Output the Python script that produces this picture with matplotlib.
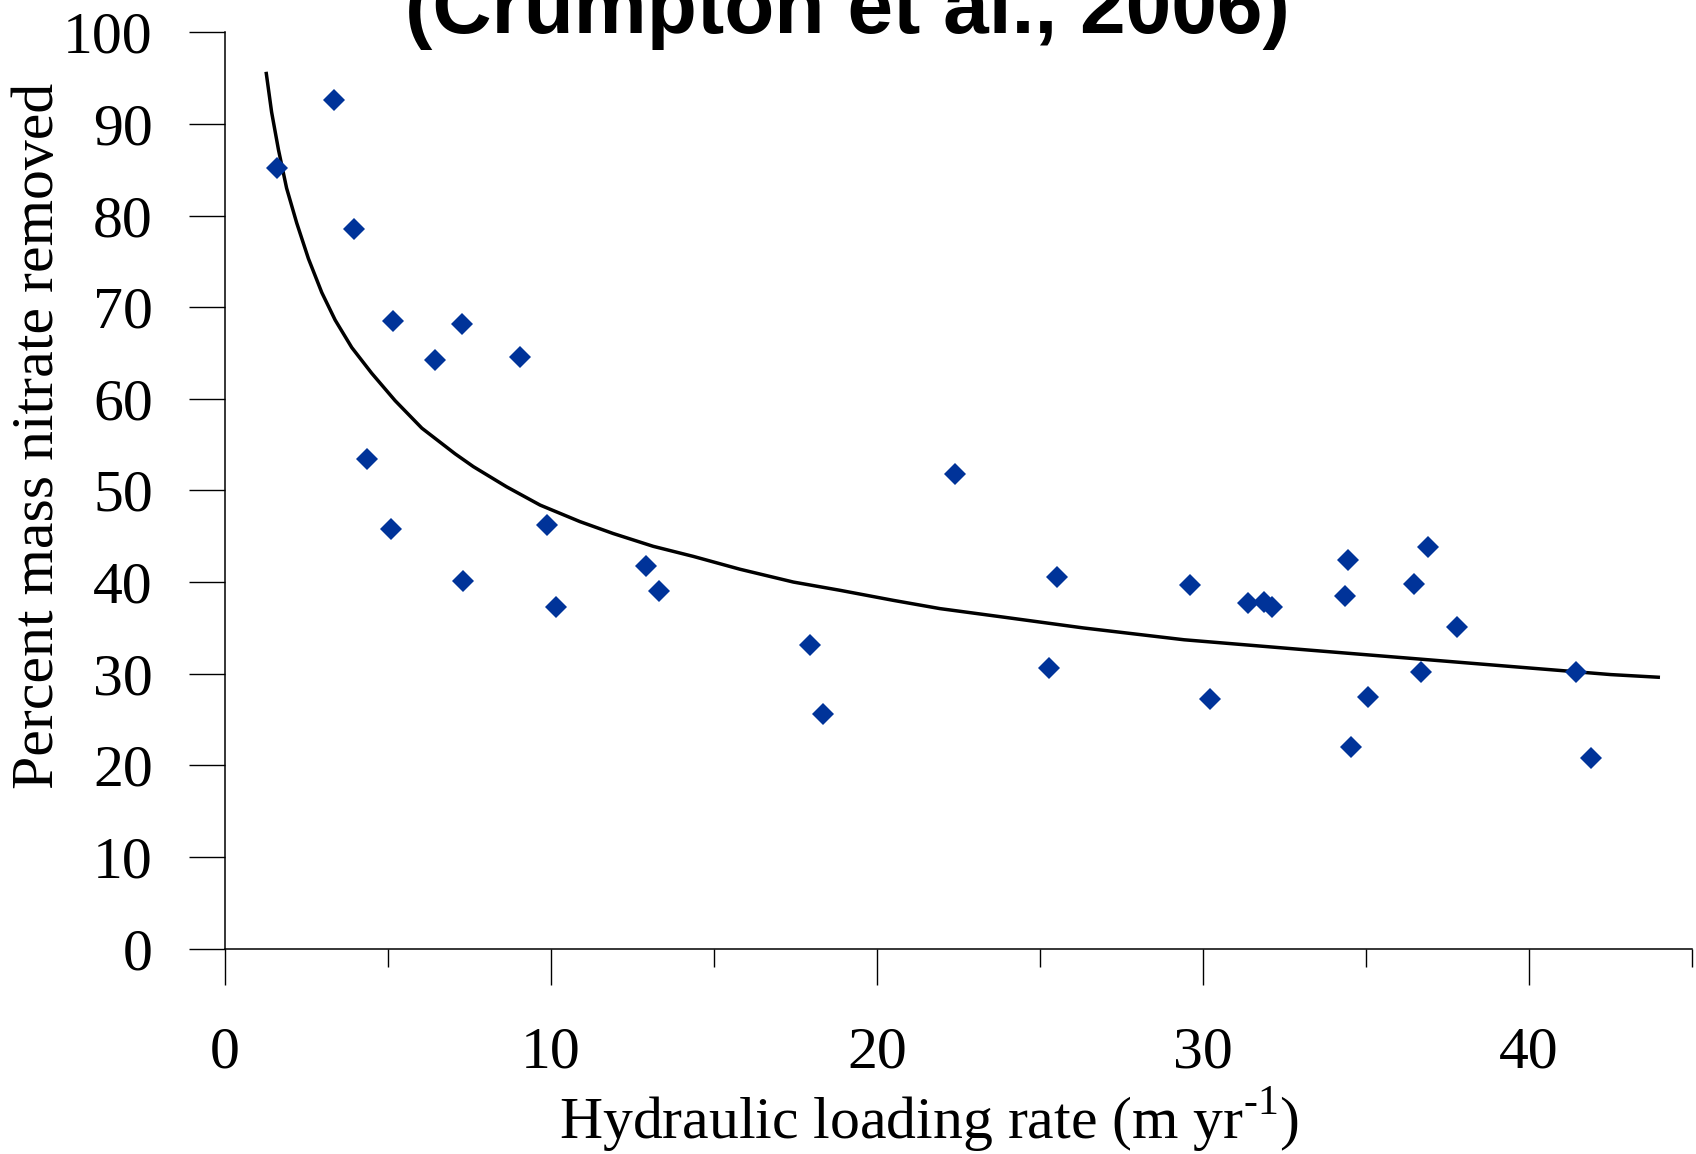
import matplotlib
matplotlib.use("Agg")
import matplotlib.pyplot as plt
from matplotlib.ticker import MultipleLocator

loading_rate = [1.59, 3.35, 3.95, 4.35, 5.14, 5.08, 6.44, 7.27, 7.30, 9.06,
                9.89, 10.16, 12.91, 13.31, 17.96, 18.35, 22.40, 25.29, 25.52, 29.6,
                30.23, 31.40, 31.89, 32.13, 34.35, 34.45, 34.55, 35.08, 36.47, 36.71,
                36.91, 37.80, 41.45, 41.92]
pct_removed = [85.2, 92.6, 78.5, 53.4, 68.5, 45.8, 64.2, 68.2, 40.1, 64.6,
               46.2, 37.3, 41.8, 39.0, 33.1, 25.6, 51.8, 30.6, 40.6, 39.7,
               27.2, 37.7, 37.8, 37.3, 38.5, 42.4, 22.0, 27.5, 39.8, 30.2,
               43.8, 35.1, 30.2, 20.8]

# Fitted trend curve
curve_x = [1.26, 1.43, 1.64, 1.89, 2.20, 2.56, 2.97, 3.38, 3.89, 4.50,
           5.22, 6.04, 7.06, 7.62, 8.64, 9.67, 10.89, 11.91, 13.14, 14.37,
           15.80, 17.44, 18.87, 20.51, 21.94, 23.83, 26.32, 29.43, 33.17, 36.29,
           39.40, 42.52, 44.03]
curve_y = [95.7, 91.3, 87.2, 83.0, 79.2, 75.3, 71.6, 68.6, 65.6, 62.8,
           59.8, 56.8, 54.0, 52.6, 50.4, 48.4, 46.6, 45.3, 43.9, 42.8,
           41.4, 40.0, 39.1, 38.0, 37.1, 36.2, 35.0, 33.7, 32.6, 31.7,
           30.8, 29.9, 29.6]

x_ticks = [0, 10, 20, 30, 40]
y_ticks = [0, 10, 20, 30, 40, 50, 60, 70, 80, 90, 100]

plt.rcParams['mathtext.fontset'] = 'custom'
plt.rcParams['mathtext.rm'] = 'Liberation Serif'

serif = 'Liberation Serif'
fs = 43

fig = plt.figure(figsize=(16.96, 11.54), dpi=100)
ax = fig.add_axes([225/1696, 1-948.5/1154, (1691.6-225)/1696, (948.5-32.4)/1154])

ax.plot(curve_x, curve_y, color='black', lw=2.5, zorder=2,
        solid_joinstyle='round', solid_capstyle='butt')
ax.plot(loading_rate, pct_removed, linestyle='none', marker='D', ms=11.5,
        color='#003399', mec='#003399', mew=0, zorder=3)

ax.set_xlim(0, 45)
ax.set_ylim(0, 100)
ax.set_xticks(x_ticks)
ax.xaxis.set_minor_locator(MultipleLocator(5))
ax.set_yticks(y_ticks)

for s in ['top', 'right']:
    ax.spines[s].set_visible(False)
for s in ['left', 'bottom']:
    ax.spines[s].set_linewidth(1.1)
    ax.spines[s].set_color('black')

ax.tick_params(axis='x', which='major', direction='out', length=26, width=1.0, pad=30)
ax.tick_params(axis='x', which='minor', direction='out', length=13, width=1.0)
ax.tick_params(axis='y', which='major', direction='out', length=26, width=1.0, pad=26)

for lab in ax.get_xticklabels() + ax.get_yticklabels():
    lab.set_fontfamily(serif)
    lab.set_fontsize(fs)

fig.text(53/1696, 1-436/1154, 'Percent mass nitrate removed', rotation=90,
         rotation_mode='anchor', ha='center', va='baseline',
         fontfamily=serif, fontsize=fs)
fig.text(929/1696, 1-1138/1154, r'Hydraulic loading rate (m yr$^{\text{-1}}$)',
         ha='center', va='baseline', fontfamily=serif, fontsize=fs)
fig.text(847/1696, 1-33/1154, '(Crumpton et al., 2006)', ha='center', va='baseline',
         fontfamily='Liberation Sans', fontweight='bold', fontsize=59)

fig.savefig('out.png', dpi=100)
